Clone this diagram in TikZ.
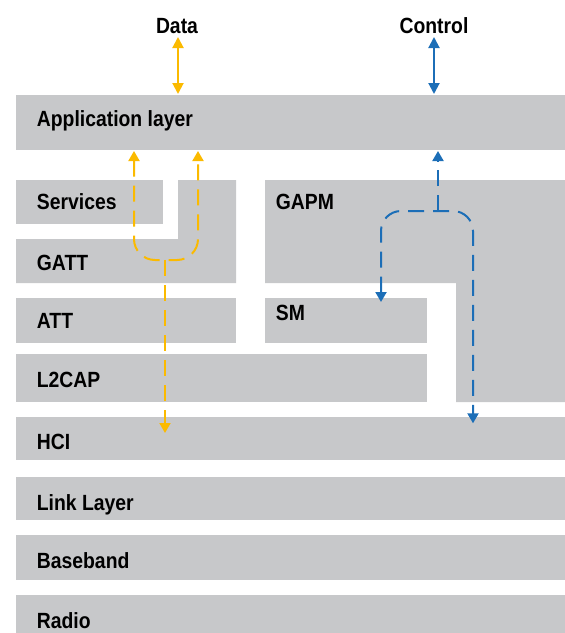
\documentclass[tikz,border=0pt]{standalone}
\usepackage{fontspec}
\setmainfont{Liberation Sans}[FakeStretch=0.88]
\usepackage{tikz}
\usetikzlibrary{arrows.meta}
\definecolor{layergray}{HTML}{C7C8CA}
\definecolor{datayellow}{HTML}{FBBA00}
\definecolor{ctrlblue}{HTML}{1C6EB7}

\begin{document}
\begin{tikzpicture}[x=1pt, y=-1pt,
  layer/.style = {fill=layergray},
  lbl/.style = {anchor=base west, inner sep=0pt, font=\fontsize{22}{26}\selectfont\bfseries},
  heading/.style = {anchor=base, inner sep=0pt, font=\fontsize{22}{26}\selectfont\bfseries},
  solidflow/.style = {line width=2pt, {Triangle[length=11pt,width=11pt]}-{Triangle[length=11pt,width=11pt]}},
  flow/.style = {line width=2pt, dash pattern=on 16pt off 9pt},
  datapath/.style = {flow, color=datayellow},
  ctrlpath/.style = {flow, color=ctrlblue},
  >={Triangle[length=10pt,width=11pt]}]
  \useasboundingbox (0,0) rectangle (565,633);

  \fill[layer] (16,95) rectangle (565,150);
  \fill[layer] (16,180) rectangle (163,224);
  \fill[layer] (16,239) -- (178,239) -- (178,180) -- (236,180) -- (236,283) -- (16,283) -- cycle;
  \fill[layer] (16,298) rectangle (236,343);
  \fill[layer] (265,180) -- (565,180) -- (565,402) -- (456,402) -- (456,283) -- (265,283) -- cycle;
  \fill[layer] (265,298) rectangle (427,343);
  \fill[layer] (16,354) rectangle (427,402);
  \fill[layer] (16,417) rectangle (565,460);
  \fill[layer] (16,477) rectangle (565,520);
  \fill[layer] (16,535) rectangle (565,580);
  \fill[layer] (16,595) rectangle (565,633);

  \node[lbl] (app) at (36.7,126.7) {Application layer};
  \node[lbl] (services) at (36.7,209) {Services};
  \node[lbl] (gatt) at (36.7,270) {GATT};
  \node[lbl] (att) at (36.7,328.3) {ATT};
  \node[lbl] (l2cap) at (36.7,387.3) {L2CAP};
  \node[lbl] (hci) at (36.7,449.3) {HCI};
  \node[lbl] (link) at (36.7,510) {Link Layer};
  \node[lbl] (baseband) at (36.7,568.3) {Baseband};
  \node[lbl] (radio) at (36.7,628.3) {Radio};
  \node[lbl] (gapm) at (275.7,209.3) {GAPM};
  \node[lbl] (sm) at (275.7,320.7) {SM};

  \node[heading] (data) at (177,33) {Data};
  \node[heading] (control) at (434,33) {Control};

  \coordinate (datatop) at (178,37);
  \coordinate (databot) at (178,94);
  \coordinate (ctrltop) at (434,37);
  \coordinate (ctrlbot) at (434,94);
  \draw[solidflow, datayellow] (datatop) -- (databot);
  \draw[solidflow, ctrlblue] (ctrltop) -- (ctrlbot);

  \coordinate (dleft) at (134,151);
  \coordinate (dright) at (198,151);
  \coordinate (djoin) at (165,260);
  \coordinate (dhci) at (165,433);
  \draw[datapath, rounded corners=21pt, <->] (dleft) -- (134,260) -- (198,260) -- (dright);
  \draw[datapath, ->] (djoin) -- (dhci);

  \coordinate (cup) at (438,151);
  \coordinate (cjoin) at (438,211);
  \coordinate (csm) at (381,302);
  \coordinate (chci) at (473,423.3);
  \draw[ctrlpath, rounded corners=20pt, <->] (csm) -- (381,211) -- (473,211) -- (chci);
  \draw[ctrlpath, ->] (cjoin) -- (cup);
\end{tikzpicture}
\end{document}
